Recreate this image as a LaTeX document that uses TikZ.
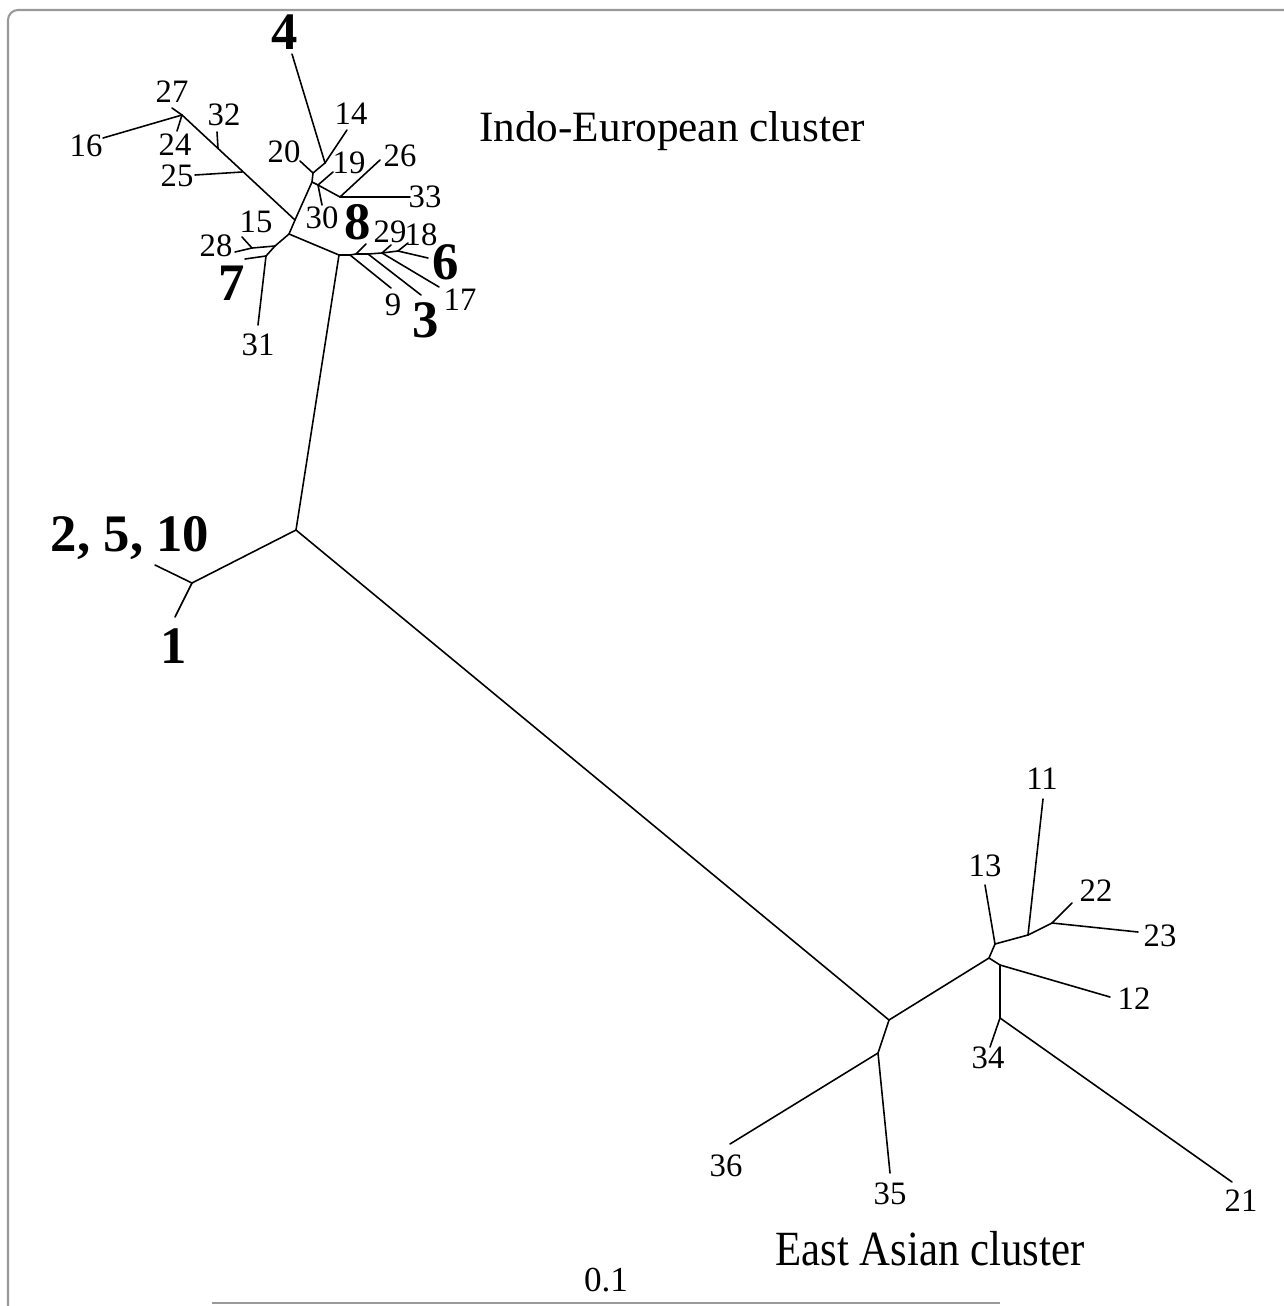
\documentclass[tikz,border=0pt]{standalone}
\usepackage{fontspec}
\setmainfont{Liberation Serif}
\usetikzlibrary{positioning}

\begin{document}
\begin{tikzpicture}[x=0.1mm, y=-0.1mm, font=\fontsize{9.3}{10}\selectfont]
  \tikzstyle{branch}=[line width=0.45pt, line cap=round]
  \tikzstyle{taxon}=[inner sep=0pt]
  \tikzstyle{bigtaxon}=[inner sep=0pt, font=\fontsize{15}{16}\selectfont\bfseries]
  \tikzstyle{greyline}=[draw=black!40, line width=0.6pt]

  \useasboundingbox (0,0) rectangle (1284,1306);

  % frame and scale bar
  \draw[greyline, rounded corners=1mm] (8,1306) -- (8,10) -- (1284,10);
  \coordinate (bar0) at (212,1303);
  \coordinate (bar1) at (1000,1303);
  \draw[greyline] (bar0) -- (bar1);
  \node[taxon, font=\fontsize{10}{11}\selectfont] (scale) at (606,1280) {0.1};

  % inner nodes
  \coordinate (A) at (296,530);
  \coordinate (C) at (192,583);
  \coordinate (D) at (889,1020);
  \coordinate (F) at (878,1053);
  \coordinate (E) at (989,958);
  \coordinate (G) at (995,944);
  \coordinate (H) at (1028,935);
  \coordinate (I) at (1052,923);
  \coordinate (J) at (1000,965);
  \coordinate (K) at (1000,1018);
  \coordinate (B) at (339,255);
  \coordinate (X2) at (289,234);
  \coordinate (X1) at (295,220);
  \coordinate (S) at (312,182);
  \coordinate (T) at (313,173);
  \coordinate (V) at (325,163);
  \coordinate (U) at (318,185);
  \coordinate (W) at (340,197);
  \coordinate (Y) at (182,115);
  \coordinate (Y32) at (218,148);
  \coordinate (Y25) at (242,172);
  \coordinate (Z1) at (275,246);
  \coordinate (Z3) at (252,248);
  \coordinate (Z2) at (266,256);
  \coordinate (Q1) at (350,255);
  \coordinate (Q2) at (356,254);
  \coordinate (Q3) at (368,254);
  \coordinate (Q4) at (382,253);
  \coordinate (Q5) at (398,251);

  % leaf ends
  \coordinate (e1) at (175,617);
  \coordinate (e2) at (155,565);
  \coordinate (e36) at (730,1144);
  \coordinate (e35) at (890,1173);
  \coordinate (e13) at (985,885);
  \coordinate (e11) at (1043,799);
  \coordinate (e22) at (1072,903);
  \coordinate (e23) at (1138,932);
  \coordinate (e12) at (1110,997);
  \coordinate (e34) at (990,1047);
  \coordinate (e21) at (1232,1182);
  \coordinate (e16) at (103,138);
  \coordinate (e27) at (172,108);
  \coordinate (e24) at (177,131);
  \coordinate (e32) at (217,132);
  \coordinate (e25) at (195,175);
  \coordinate (e28) at (235,252);
  \coordinate (e15) at (242,237);
  \coordinate (e7) at (245,259);
  \coordinate (e31) at (258,325);
  \coordinate (e20) at (300,161);
  \coordinate (e4) at (292,54);
  \coordinate (e14) at (347,130);
  \coordinate (e19) at (333,172);
  \coordinate (e30) at (322,205);
  \coordinate (e26) at (380,160);
  \coordinate (e33) at (410,197);
  \coordinate (e8) at (366,244);
  \coordinate (e29) at (391,245);
  \coordinate (e18) at (408,243);
  \coordinate (e6) at (428,258);
  \coordinate (e9) at (391,288);
  \coordinate (e3) at (421,295);
  \coordinate (e17) at (439,287);

  % labels
  \node[bigtaxon] (t2) at (130,538) {2, 5, 10};
  \node[bigtaxon] (t1) at (174,646) {1};
  \node[bigtaxon] (t7) at (232,283) {7};
  \node[bigtaxon] (t4) at (285,32) {4};
  \node[bigtaxon] (t8) at (358,222) {8};
  \node[bigtaxon] (t6) at (446,262) {6};
  \node[bigtaxon] (t3) at (426,320) {3};
  \node[taxon] (t16) at (86,146) {16};
  \node[taxon] (t27) at (172,92) {27};
  \node[taxon] (t24) at (175,145) {24};
  \node[taxon] (t32) at (224,115) {32};
  \node[taxon] (t25) at (177,176) {25};
  \node[taxon] (t28) at (216,246) {28};
  \node[taxon] (t15) at (256,222) {15};
  \node[taxon] (t31) at (258,345) {31};
  \node[taxon] (t20) at (284,152) {20};
  \node[taxon] (t14) at (351,114) {14};
  \node[taxon] (t19) at (349,163) {19};
  \node[taxon] (t30) at (322,218) {30};
  \node[taxon] (t26) at (400,156) {26};
  \node[taxon] (t33) at (425,197) {33};
  \node[taxon] (t29) at (390,232) {29};
  \node[taxon] (t18) at (421,235) {18};
  \node[taxon] (t9) at (393,305) {9};
  \node[taxon] (t17) at (460,300) {17};
  \node[taxon] (t36) at (726,1166) {36};
  \node[taxon] (t35) at (890,1194) {35};
  \node[taxon] (t13) at (985,866) {13};
  \node[taxon] (t11) at (1042,779) {11};
  \node[taxon] (t22) at (1096,891) {22};
  \node[taxon] (t23) at (1160,936) {23};
  \node[taxon] (t12) at (1134,999) {12};
  \node[taxon] (t34) at (988,1058) {34};
  \node[taxon] (t21) at (1241,1201) {21};

  \node[taxon, font=\fontsize{12.3}{14}\selectfont] (ie) at (672,131) {Indo-European cluster};
  \node[taxon, font=\fontsize{14}{16}\selectfont] (ea) at (930,1249) {\scalebox{0.87}[1]{East Asian cluster}};

  % central branches
  \draw[branch] (A) -- (B);
  \draw[branch] (A) -- (C);
  \draw[branch] (A) -- (D);
  \draw[branch] (C) -- (e2);
  \draw[branch] (C) -- (e1);

  % East Asian cluster
  \draw[branch] (D) -- (E);
  \draw[branch] (D) -- (F);
  \draw[branch] (F) -- (e35);
  \draw[branch] (F) -- (e36);
  \draw[branch] (E) -- (G);
  \draw[branch] (G) -- (e13);
  \draw[branch] (G) -- (H);
  \draw[branch] (H) -- (e11);
  \draw[branch] (H) -- (I);
  \draw[branch] (I) -- (e22);
  \draw[branch] (I) -- (e23);
  \draw[branch] (E) -- (J);
  \draw[branch] (J) -- (e12);
  \draw[branch] (J) -- (K);
  \draw[branch] (K) -- (e34);
  \draw[branch] (K) -- (e21);

  % Indo-European cluster
  \draw[branch] (B) -- (X2);
  \draw[branch] (X2) -- (X1);
  \draw[branch] (X1) -- (S);
  \draw[branch] (X1) -- (Y);
  \draw[branch] (Y) -- (e16);
  \draw[branch] (Y) -- (e27);
  \draw[branch] (Y) -- (e24);
  \draw[branch] (Y32) -- (e32);
  \draw[branch] (Y25) -- (e25);
  \draw[branch] (X2) -- (Z1);
  \draw[branch] (Z1) -- (Z2);
  \draw[branch] (Z1) -- (Z3);
  \draw[branch] (Z3) -- (e28);
  \draw[branch] (Z3) -- (e15);
  \draw[branch] (Z2) -- (e7);
  \draw[branch] (Z2) -- (e31);
  \draw[branch] (S) -- (T);
  \draw[branch] (T) -- (e20);
  \draw[branch] (T) -- (V);
  \draw[branch] (V) -- (e4);
  \draw[branch] (V) -- (e14);
  \draw[branch] (S) -- (U);
  \draw[branch] (U) -- (W);
  \draw[branch] (U) -- (e30);
  \draw[branch] (U) -- (e19);
  \draw[branch] (W) -- (e26);
  \draw[branch] (W) -- (e33);
  \draw[branch] (B) -- (Q1);
  \draw[branch] (Q1) -- (Q2);
  \draw[branch] (Q2) -- (Q3);
  \draw[branch] (Q3) -- (Q4);
  \draw[branch] (Q4) -- (Q5);
  \draw[branch] (Q1) -- (e9);
  \draw[branch] (Q2) -- (e8);
  \draw[branch] (Q3) -- (e3);
  \draw[branch] (Q4) -- (e29);
  \draw[branch] (Q4) -- (e17);
  \draw[branch] (Q5) -- (e18);
  \draw[branch] (Q5) -- (e6);
\end{tikzpicture}
\end{document}
